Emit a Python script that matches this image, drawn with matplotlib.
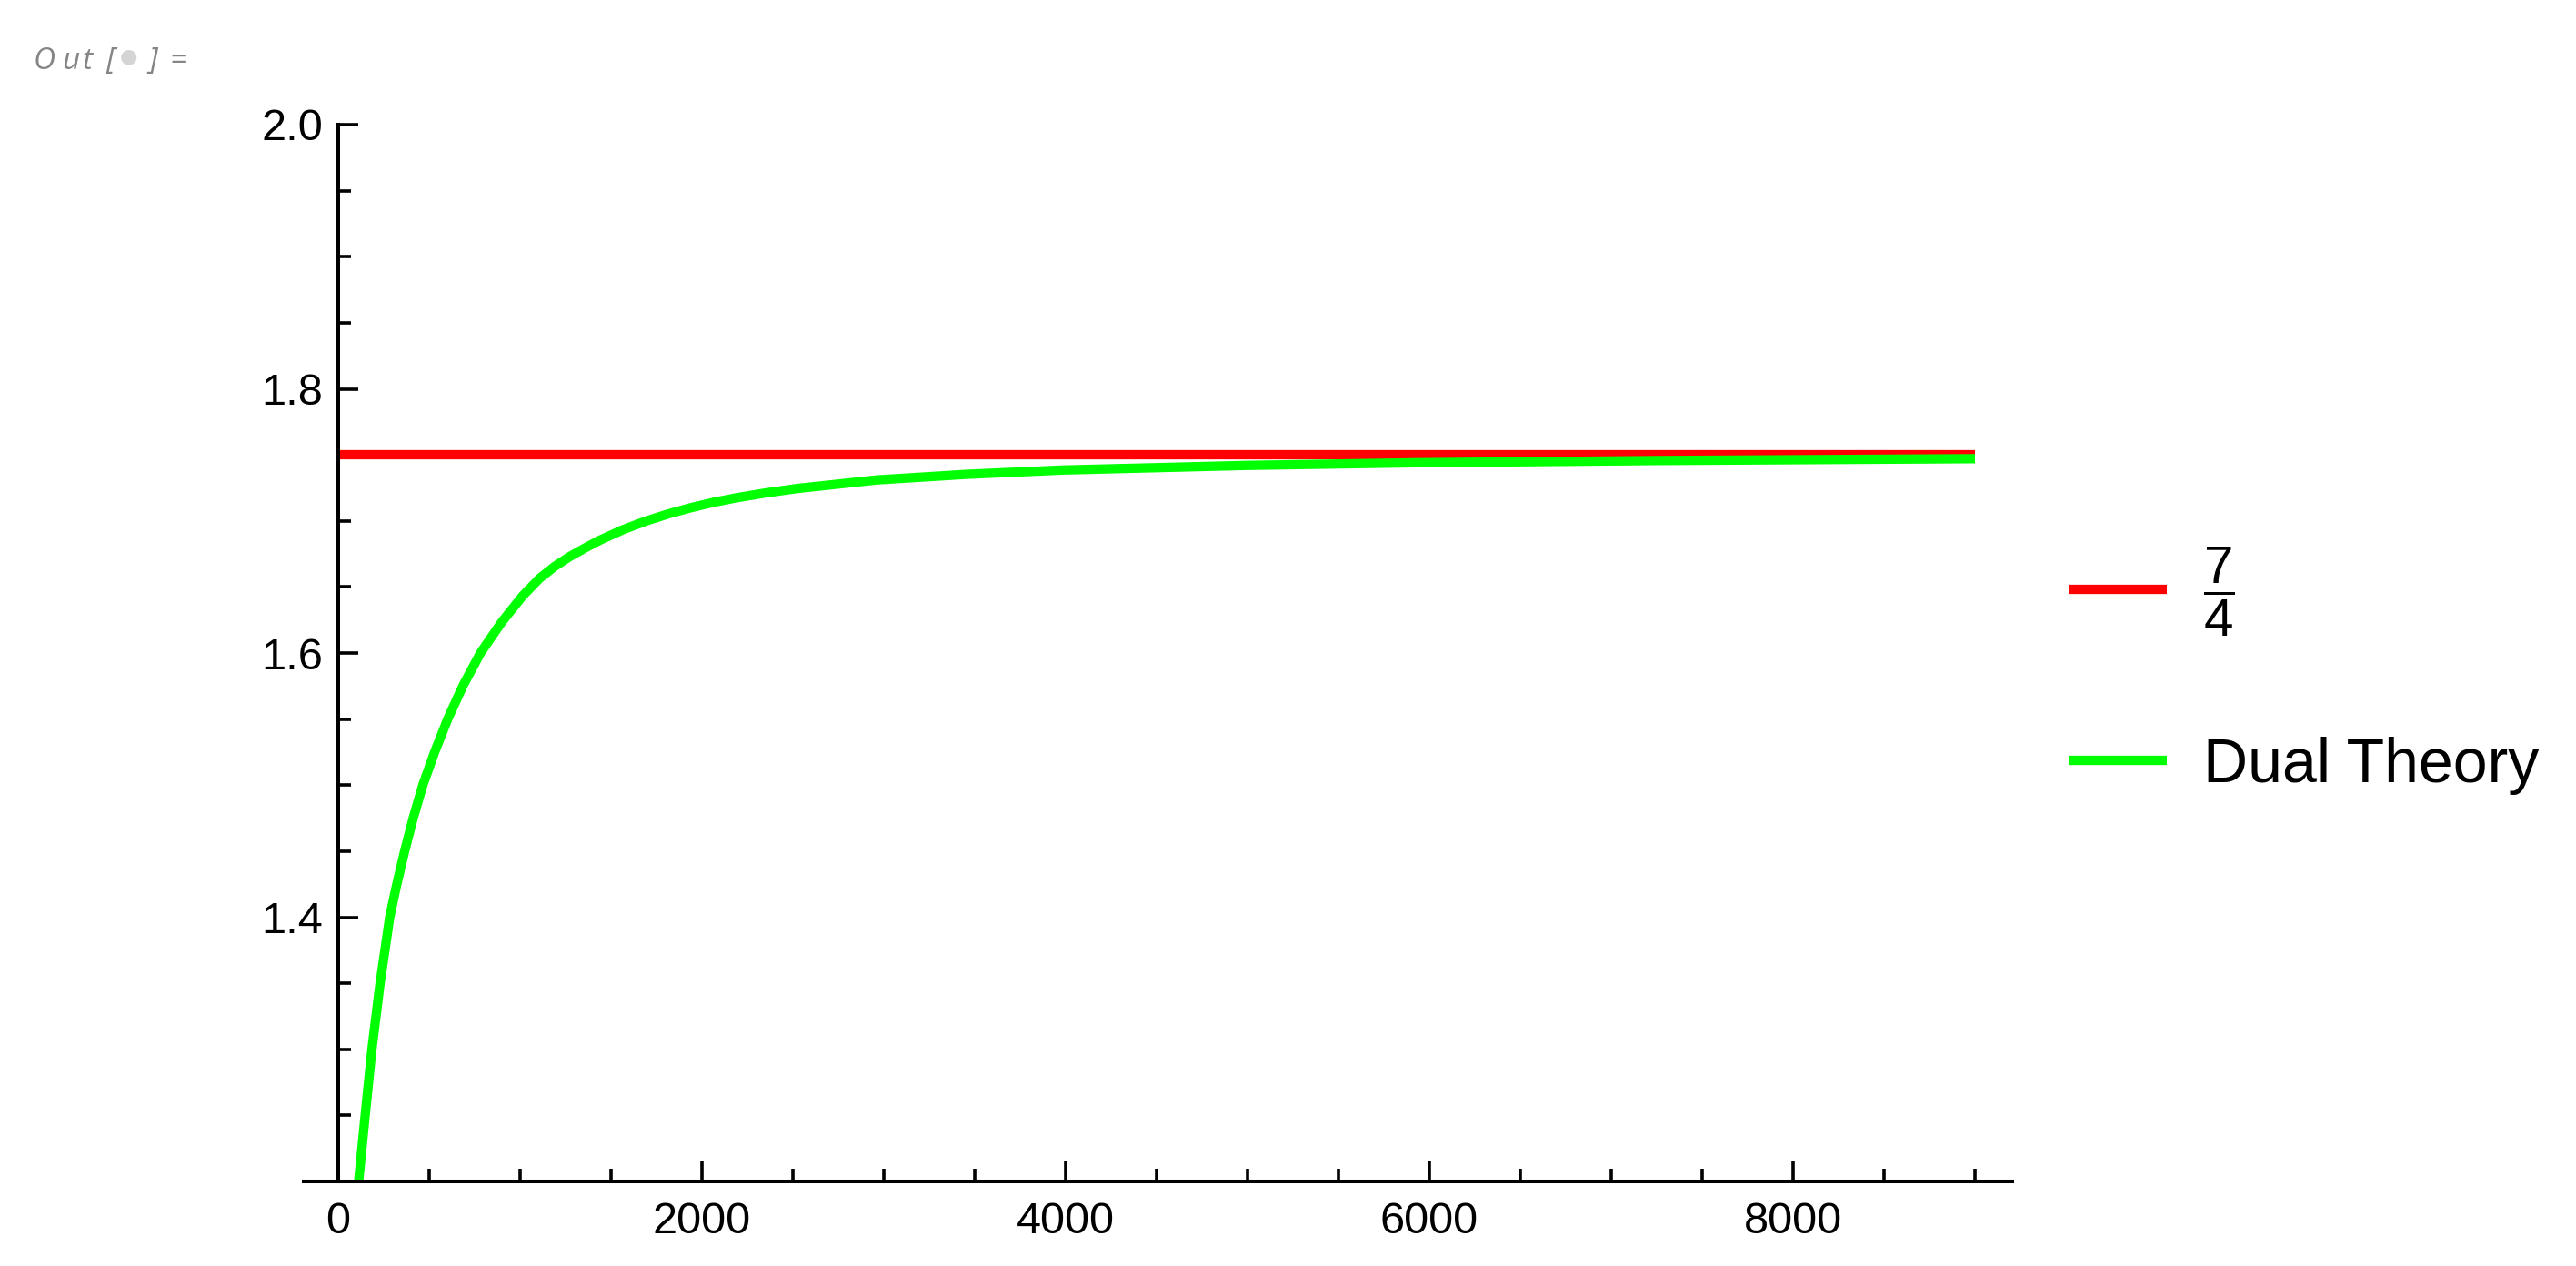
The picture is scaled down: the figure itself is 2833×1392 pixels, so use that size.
import matplotlib
matplotlib.use("Agg")
import matplotlib.pyplot as plt
from matplotlib.ticker import MultipleLocator, FixedLocator

# values
limit_x = [0, 9000]
limit_y = [1.75, 1.75]

dual_x = [112, 148, 185, 230, 283, 322, 365, 412, 465, 530, 602, 685, 782, 900,
          1015, 1107, 1190, 1273, 1357, 1440, 1565, 1690, 1815, 1940, 2065, 2190,
          2357, 2523, 2960, 3450, 3980, 5000, 5920, 7240, 9000]
dual_y = [1.20, 1.25, 1.30, 1.35, 1.40, 1.425, 1.45, 1.475, 1.50, 1.525, 1.55,
          1.575, 1.60, 1.6236, 1.6434, 1.6565, 1.6655, 1.6730, 1.6795, 1.6855,
          1.6933, 1.6998, 1.7053, 1.7100, 1.7141, 1.7175, 1.7213, 1.7245, 1.731,
          1.7352, 1.7385, 1.742, 1.744, 1.7457, 1.7471]

x_major = [0, 2000, 4000, 6000, 8000]
y_major = [1.4, 1.6, 1.8, 2.0]

plt.rcParams['font.family'] = ['Liberation Sans', 'DejaVu Sans']
plt.rcParams['mathtext.fontset'] = 'custom'
plt.rcParams['mathtext.rm'] = 'Liberation Sans'
plt.rcParams['mathtext.it'] = 'Liberation Sans'

DPI = 100
W, H = 2833, 1392
fig = plt.figure(figsize=(W / DPI, H / DPI), dpi=DPI)
ax = fig.add_axes([334 / W, 1 - 1299 / H, (2213 - 334) / W, (1299 - 137) / H])

line1, = ax.plot(limit_x, limit_y, color='#ff0000', lw=7.4, solid_capstyle='butt')
line2, = ax.plot(dual_x, dual_y, color='#00ff00', lw=7.4, solid_capstyle='butt',
                 solid_joinstyle='round')

ax.set_xlim(-190, 9205)
ax.set_ylim(1.2, 2.0)

ax.spines['top'].set_visible(False)
ax.spines['right'].set_visible(False)
ax.spines['left'].set_position(('data', 0))
for s in ['left', 'bottom']:
    ax.spines[s].set_linewidth(2.9)

ax.xaxis.set_major_locator(FixedLocator(x_major))
ax.xaxis.set_minor_locator(MultipleLocator(500))
ax.yaxis.set_major_locator(FixedLocator(y_major))
ax.yaxis.set_minor_locator(MultipleLocator(0.05))
ax.set_yticklabels(['%.1f' % v for v in y_major])

ax.tick_params(which='both', direction='in', width=2.6, labelsize=35)
ax.tick_params(which='major', length=16)
ax.tick_params(which='minor', length=10)
ax.tick_params(axis='x', pad=16)
ax.tick_params(axis='y', pad=12)

# legend, one entry per box so each row sits where the reference has it
# handle 108 px long, text 40 px after it
def px_units(px, fs):
    return px / (fs * DPI / 72)

fs1, fs2 = 42, 49
leg_kw = dict(loc='center left', frameon=False, borderpad=0, borderaxespad=0)
fig.legend([line1], [r'$\dfrac{7}{4}$'], bbox_to_anchor=(2275 / W, 1 - 651 / H),
           fontsize=fs1, handlelength=px_units(108, fs1),
           handletextpad=px_units(40, fs1), **leg_kw)
fig.legend([line2], ['Dual Theory'], bbox_to_anchor=(2275 / W, 1 - 842 / H),
           fontsize=fs2, handlelength=px_units(108, fs2),
           handletextpad=px_units(40, fs2), **leg_kw)

# the notebook output marker
out_chars = ['O', 'u', 't', '[', ']', '=']
out_pos = [37, 68, 90, 116, 163, 186]
for ch, px in zip(out_chars, out_pos):
    fig.text(px / W, 1 - 76 / H, ch, fontsize=24, style='italic',
             color='#858585', family='Open Sans', va='baseline')
fig.text(141 / W, 1 - 62 / H, u'\u25cf', fontsize=16, color='#d4d4d4',
         ha='center', va='center', family='DejaVu Sans')

fig.savefig('out.png', dpi=DPI)
